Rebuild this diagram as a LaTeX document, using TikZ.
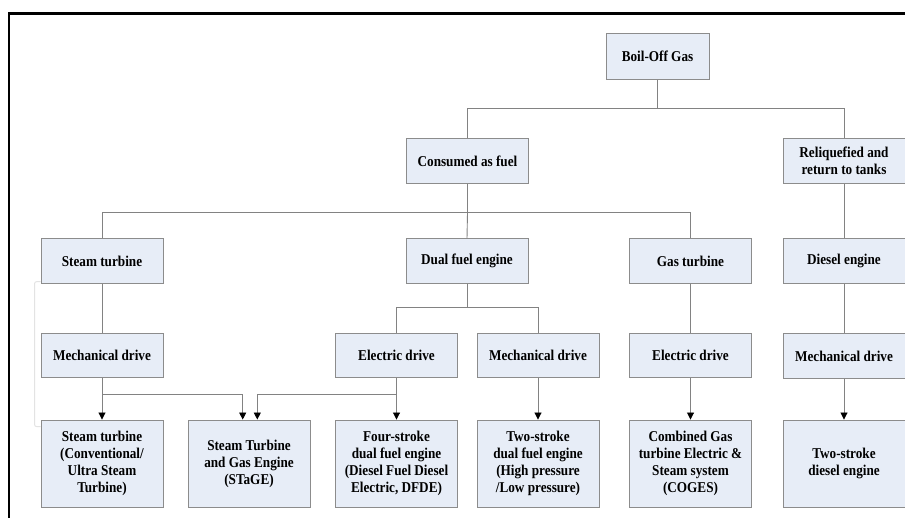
\documentclass[tikz,border=0pt]{standalone}
\usepackage{fontspec}
\setmainfont{Liberation Serif}
\newfontfamily\boxfont[FakeStretch=0.88]{Liberation Serif}
\usetikzlibrary{arrows.meta}
\definecolor{boxfill}{RGB}{231,237,247}
\definecolor{boxline}{RGB}{140,140,140}
\definecolor{conn}{RGB}{130,130,130}
\tikzset{
  bx/.style={draw=boxline, fill=boxfill, line width=0.9pt, inner sep=0pt,
    minimum width=122pt, minimum height=44.5pt, align=center,
    font=\boxfont\fontsize{15}{16.9}\selectfont\bfseries},
  tallbx/.style={bx, minimum height=87pt},
  ln/.style={draw=conn, line width=0.9pt},
  ar/.style={ln, -{Triangle[length=7pt,width=7pt,color=black]}},
}
\begin{document}
\begin{tikzpicture}[x=1pt,y=-1pt]
\useasboundingbox (0,0) rectangle (905,518);
% frame
\draw[line width=2.2pt, black] (9,520) -- (9,13.5) -- (906,13.5);
% nodes
\node[bx, minimum width=103pt, minimum height=46pt] (bog) at (657.5,56.5) {Boil-Off Gas};
\node[bx] (cons) at (467.5,161) {Consumed as fuel};
\node[bx] (reliq) at (844,161) {Reliquefied and\\return to tanks};
\node[bx] (steam) at (102,261) {Steam turbine};
\node[bx] (dual) at (467,261) {Dual fuel engine};
\node[bx] (gas) at (690.5,261) {Gas turbine};
\node[bx] (diesel) at (844,261) {Diesel engine};
\node[bx] (mech1) at (102,355.5) {Mechanical drive};
\node[bx] (elec1) at (396.5,355.5) {Electric drive};
\node[bx] (mech2) at (538,355.5) {Mechanical drive};
\node[bx] (elec2) at (690.5,355.5) {Electric drive};
\node[bx] (mech3) at (844,356) {Mechanical drive};
\node[tallbx] (b1) at (102,463.5) {Steam turbine\\(Conventional/\\Ultra Steam\\Turbine)};
\node[tallbx] (b2) at (249,463.5) {Steam Turbine\\and Gas Engine\\(STaGE)};
\node[tallbx] (b3) at (396.5,463.5) {Four-stroke\\dual fuel engine\\(Diesel Fuel Diesel\\Electric, DFDE)};
\node[tallbx] (b4) at (538,463.5) {Two-stroke\\dual fuel engine\\(High pressure\\/Low pressure)};
\node[tallbx] (b5) at (690.5,463.5) {Combined Gas\\turbine Electric \&\\Steam system\\(COGES)};
\node[tallbx] (b6) at (844,463.5) {Two-stroke\\diesel engine};
% level 1
\coordinate (j0) at (bog.center |- 0,108.5);
\draw[ln] (bog.south) -- (j0);
\draw[ln] (cons.north) |- (j0) -| (reliq.north);
% level 2
\coordinate (j1) at (cons.center |- 0,212.7);
\draw[ln] (cons.south) -- (j1);
\draw[ln] (steam.north) |- (j1) -| (gas.north);
\draw[ln] (j1) -- (dual.north);
\draw[ln] (reliq.south) -- (diesel.north);
% level 3
\draw[ln] (steam.south) -- (mech1.north);
\coordinate (j2) at (dual.center |- 0,307.7);
\draw[ln] (dual.south) -- (j2);
\draw[ln] (elec1.north) |- (j2) -| (mech2.north);
\draw[ln] (gas.south) -- (elec2.north);
\draw[ln] (diesel.south) -- (mech3.north);
% arrows
\coordinate (m1) at (mech1.south |- 0,394.3);
\coordinate (e1) at (elec1.south |- 0,394.3);
\coordinate (t2a) at ([xshift=-6.3pt]b2.north);
\coordinate (t2b) at ([xshift=8.3pt]b2.north);
\draw[ar] (mech1.south) -- (b1.north);
\draw[ar] (m1) -| (t2a);
\draw[ar] (e1) -| (t2b);
\draw[ar] (elec1.south) -- (b3.north);
\draw[ar] (mech2.south) -- (b4.north);
\draw[ar] (elec2.south) -- (b5.north);
\draw[ar] (mech3.south) -- (b6.north);
% faint bracket
\draw[draw=gray!22, line width=1pt, rounded corners=2pt]
  ([yshift=2pt]steam.south west) -- ++(-6,0) |- ([yshift=-7pt]b1.north west);
\end{tikzpicture}
\end{document}
